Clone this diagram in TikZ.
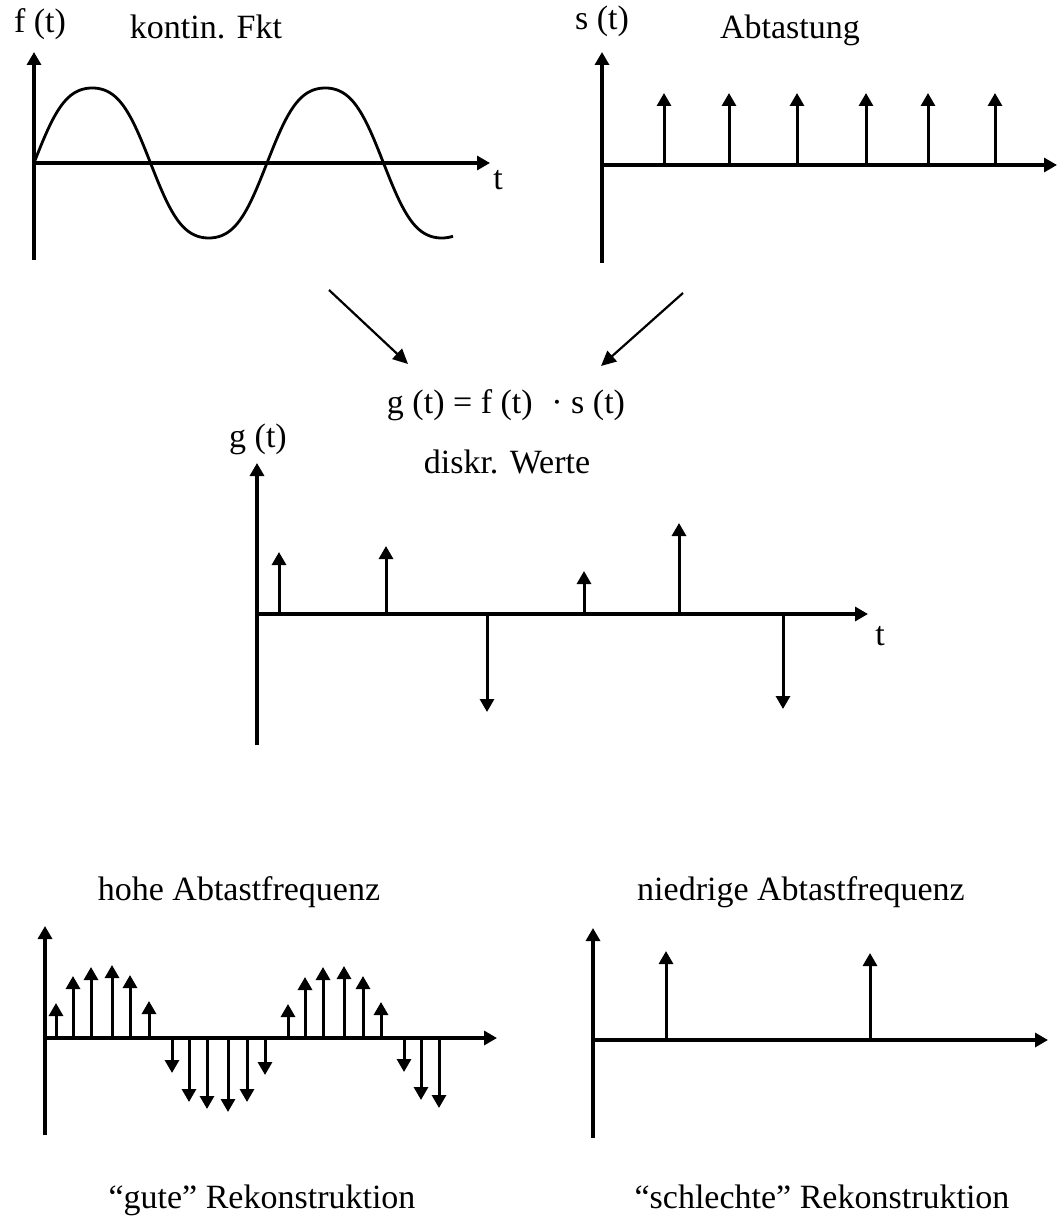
\documentclass[tikz,border=0pt]{standalone}
\usepackage{fontspec}
\setmainfont{Liberation Serif}
\usetikzlibrary{arrows.meta}
\begin{document}
\begin{tikzpicture}[x=0.5pt,y=-0.5pt,
  axis/.style={line width=1.6pt,-{Triangle[length=6.5pt,width=7pt]}},
  stem/.style={line width=1.5pt,-{Triangle[length=6.5pt,width=7pt]}},
  flow/.style={line width=1.1pt,-{Triangle[length=7.5pt,width=7pt]}},
  curve/.style={line width=1.4pt},
  lbl/.style={font=\fontsize{17}{20}\selectfont, inner sep=0pt, anchor=base}]
\useasboundingbox (0,0) rectangle (1061,1219);

% ---------- top left: continuous function ----------
\coordinate (fo) at (34,163);
\coordinate (fb) at (34,260);
\coordinate (ft) at (34,52);
\coordinate (fx) at (490,163);
\draw[axis] (fb) -- (ft);
\draw[axis] (fo) -- (fx);
\draw[curve] plot[domain=34:453, samples=240]
  (\x, {163-79.8*(sin(((\x-34)/233)*360)+0.06*sin(((\x-34)/233)*1080))});
\node[lbl] (flab) at (40,33) {f (t)};
\node[lbl] (ftitle) at (206,39) {kontin. Fkt};
\node[lbl] (ftl) at (498,190) {t};

% ---------- top right: sampling ----------
\coordinate (so) at (602,165);
\coordinate (sb) at (602,263);
\coordinate (st) at (602,52);
\coordinate (sx) at (1057,165);
\draw[axis] (sb) -- (st);
\draw[axis] (so) -- (sx);
\foreach \xx [count=\i] in {664,729,797,866,928,995} {
  \coordinate (sa\i) at (\xx,165);
  \coordinate (se\i) at (\xx,93);
  \draw[stem] (sa\i) -- (se\i);
}
\node[lbl] (slab) at (602,30) {s (t)};
\node[lbl] (stitle) at (790,39) {Abtastung};

% ---------- combining arrows ----------
\coordinate (d1s) at (329,290);
\coordinate (d1e) at (408,364);
\coordinate (d2s) at (683,293);
\coordinate (d2e) at (601,366);
\draw[flow] (d1s) -- (d1e);
\draw[flow] (d2s) -- (d2e);
\node[lbl] (eqn) at (506,413) {g (t) = f (t)\hspace{0.3em} · s (t)};
\node[lbl] (gtitle) at (507,473) {diskr. Werte};

% ---------- middle: discrete values ----------
\coordinate (go) at (257,614);
\coordinate (gb) at (257,745);
\coordinate (gt) at (257,463);
\coordinate (gx) at (868,614);
\draw[axis] (gb) -- (gt);
\draw[axis] (go) -- (gx);
\foreach \xx/\yy [count=\i] in {279/552,386/546,487/712,584/571,679/523,783/709} {
  \coordinate (ga\i) at (\xx,614);
  \coordinate (ge\i) at (\xx,\yy);
  \draw[stem] (ga\i) -- (ge\i);
}
\node[lbl] (glab) at (258,447) {g (t)};
\node[lbl] (gtl) at (880,645) {t};

% ---------- bottom left: high sampling rate ----------
\coordinate (ho) at (45,1038);
\coordinate (hb) at (45,1135);
\coordinate (ht) at (45,926);
\coordinate (hx) at (497,1038);
\draw[axis] (hb) -- (ht);
\draw[axis] (ho) -- (hx);
\foreach \xx/\yy [count=\i] in {56/1003,73/976,91/967,112/965,130/975,149/1001,
    172/1073,189/1102,207/1109,228/1112,247/1102,265/1075,
    288/1004,305/977,323/967,344/966,363/976,381/1002,
    404/1072,421/1100,439/1108} {
  \coordinate (ha\i) at (\xx,1038);
  \coordinate (he\i) at (\xx,\yy);
  \draw[stem] (ha\i) -- (he\i);
}
\node[lbl] (htitle) at (239,900) {hohe Abtastfrequenz};
\node[lbl] (hcap) at (262,1208) {“gute” Rekonstruktion};

% ---------- bottom right: low sampling rate ----------
\coordinate (lo) at (593,1040);
\coordinate (lb) at (593,1138);
\coordinate (lt) at (593,928);
\coordinate (lx) at (1048,1040);
\draw[axis] (lb) -- (lt);
\draw[axis] (lo) -- (lx);
\foreach \xx/\yy [count=\i] in {666/951,870/953} {
  \coordinate (la\i) at (\xx,1040);
  \coordinate (le\i) at (\xx,\yy);
  \draw[stem] (la\i) -- (le\i);
}
\node[lbl] (ltitle) at (801,900) {niedrige Abtastfrequenz};
\node[lbl] (lcap) at (822,1208) {“schlechte” Rekonstruktion};
\end{tikzpicture}
\end{document}
